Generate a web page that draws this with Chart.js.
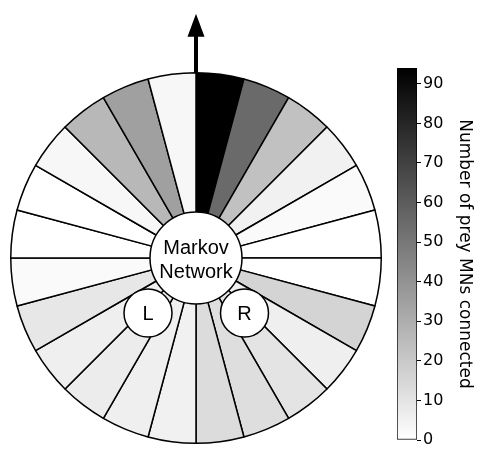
<!DOCTYPE html>
<html>
<head>
<meta charset="utf-8">
<script src="https://cdn.jsdelivr.net/npm/chart.js@4.4.1/dist/chart.umd.min.js"></script>
<style>
body { margin: 0; background: #fff; }
#wrap { position: relative; width: 480px; height: 456px; }
#wheel { position: absolute; left: 0; top: 0; }
#bar { position: absolute; left: 390px; top: 0; }
</style>
</head>
<body>
<div id="wrap">
<canvas id="wheel" width="390" height="456"></canvas>
<canvas id="bar" width="90" height="456"></canvas>
</div>
<script>
// sectors clockwise from straight ahead (degrees)
var sectorLabels = ['0', '15', '30', '45', '60', '75', '90', '105', '120', '135', '150', '165',
                    '180', '195', '210', '225', '240', '255', '270', '285', '300', '315', '330', '345'];
var sectorSpan = [15, 15, 15, 15, 15, 15, 15, 15, 15, 15, 15, 15,
                  15, 15, 15, 15, 15, 15, 15, 15, 15, 15, 15, 15];
var preyCounts = [94, 55, 23, 5, 2, 0, 0, 16, 6, 10, 12, 13,
                  5, 6, 7, 6, 9, 2, 0, 0, 3, 26, 35, 3];
var colorMax = 94;
var colorTicks = [0, 10, 20, 30, 40, 50, 60, 70, 80, 90];

function grayFor(v) {
    var g = Math.round(255 * (1 - v / colorMax));
    return 'rgb(' + g + ',' + g + ',' + g + ')';
}

function circle(ctx, x, y, r) {
    ctx.beginPath();
    ctx.arc(x, y, r, 0, Math.PI * 2);
    ctx.fillStyle = '#fff';
    ctx.fill();
    ctx.lineWidth = 1.5;
    ctx.strokeStyle = '#000';
    ctx.stroke();
}

var wheelDecor = {
    id: 'wheelDecor',
    afterDatasetsDraw: function(chart) {
        var arc = chart.getDatasetMeta(0).data[0];
        var cx = arc.x, cy = arc.y, R = arc.outerRadius;
        var ctx = chart.ctx;
        ctx.save();
        // heading arrow
        ctx.fillStyle = '#000';
        ctx.fillRect(cx - 2, cy - R - 37, 4, 37);
        ctx.beginPath();
        ctx.moveTo(cx, cy - R - 59);
        ctx.lineTo(cx + 8.5, cy - R - 36);
        ctx.lineTo(cx - 8.5, cy - R - 36);
        ctx.closePath();
        ctx.fill();
        // brain and eyes
        circle(ctx, cx, cy, 46);
        circle(ctx, cx - 48, cy + 55, 24);
        circle(ctx, cx + 48.5, cy + 55, 24);
        ctx.fillStyle = '#000';
        ctx.textAlign = 'center';
        ctx.textBaseline = 'middle';
        ctx.font = '20px "Liberation Sans", Arial, sans-serif';
        ctx.fillText('Markov', cx, cy - 10);
        ctx.fillText('Network', cx, cy + 14);
        ctx.fillText('L', cx - 48, cy + 56);
        ctx.fillText('R', cx + 48.5, cy + 56);
        ctx.restore();
    }
};

new Chart(document.getElementById('wheel'), {
    type: 'doughnut',
    data: {
        labels: sectorLabels,
        datasets: [{
            data: sectorSpan,
            backgroundColor: preyCounts.map(grayFor),
            borderColor: '#000',
            borderWidth: 1.5
        }]
    },
    options: {
        responsive: false,
        animation: false,
        events: [],
        cutout: 40,
        layout: { padding: { left: 10, right: 8, top: 72, bottom: 12 } },
        plugins: { legend: { display: false }, tooltip: { enabled: false } }
    },
    plugins: [wheelDecor]
});

new Chart(document.getElementById('bar'), {
    type: 'bar',
    data: {
        labels: [''],
        datasets: [{
            data: [[0, colorMax]],
            backgroundColor: function(c) {
                var a = c.chart.chartArea;
                if (!a) return '#888';
                var g = c.chart.ctx.createLinearGradient(0, a.bottom, 0, a.top);
                g.addColorStop(0, '#fff');
                g.addColorStop(1, '#000');
                return g;
            },
            borderColor: '#000',
            borderWidth: 1,
            borderSkipped: false,
            barPercentage: 1,
            categoryPercentage: 1
        }]
    },
    options: {
        responsive: false,
        animation: false,
        events: [],
        layout: { padding: { left: 7, right: 0, top: 68, bottom: 16 } },
        plugins: { legend: { display: false }, tooltip: { enabled: false } },
        scales: {
            x: { display: false },
            y: {
                position: 'right',
                min: 0,
                max: colorMax,
                afterBuildTicks: function(s) { s.ticks = colorTicks.map(function(v) { return { value: v }; }); },
                afterFit: function(s) { s.width = 63; },
                border: { display: false },
                grid: { drawOnChartArea: false, color: '#000', tickLength: 4 },
                ticks: {
                    color: '#000',
                    padding: 2,
                    font: { family: '"DejaVu Sans"', size: 16 }
                },
                title: {
                    display: true,
                    text: 'Number of prey MNs connected',
                    color: '#000',
                    font: { family: '"DejaVu Sans"', size: 17 },
                    padding: { top: 5, bottom: 0 }
                }
            }
        }
    }
});
</script>
</body>
</html>
